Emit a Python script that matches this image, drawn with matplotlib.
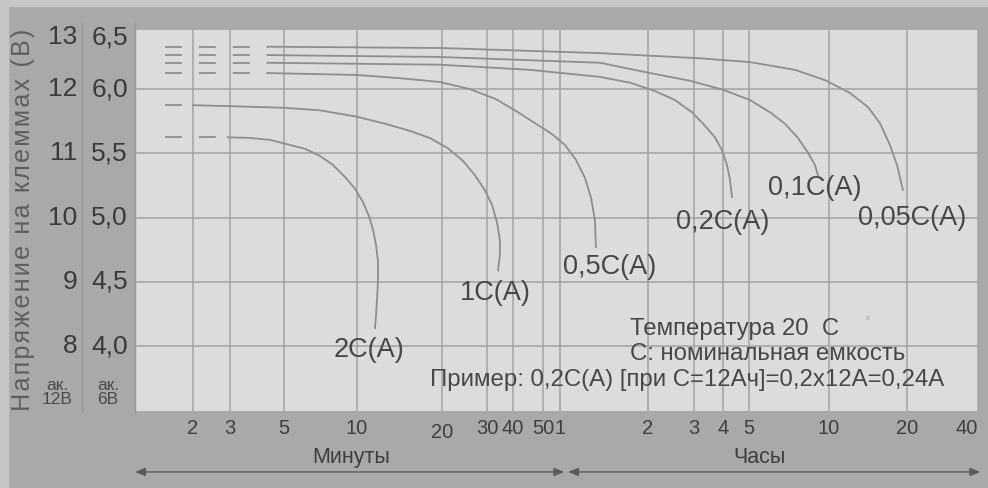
import numpy as np
import matplotlib
matplotlib.use('Agg')
import matplotlib.pyplot as plt
from matplotlib.lines import Line2D
from matplotlib.patches import Rectangle

plt.rcParams['font.family'] = ['Liberation Sans', 'DejaVu Sans']
plt.rcParams['lines.scale_dashes'] = False

# ---- axis calibration of the printed time grid (minutes -> grid position) ----
scale_minutes = [1, 2, 3, 5, 10, 20, 30, 40, 50, 60, 120, 180, 240, 300, 600, 1200, 2400]
scale_pos = [136, 193, 230, 284, 357, 442, 487, 513, 543, 560, 648, 694, 723, 749, 829, 907, 978]

# ---- tick data ----
tick_minutes = [2, 3, 5, 10, 20, 30, 40, 50, 60, 120, 180, 240, 300, 600, 1200, 2400]
tick_labels = ['2', '3', '5', '10', '20', '30', '40', '50', '1', '2', '3', '4', '5', '10', '20', '40']
volt12 = [13, 12, 11, 10, 9, 8]
volt6 = ['6,5', '6,0', '5,5', '5,0', '4,5', '4,0']

# ---- discharge curves: time (minutes), voltage (12 V battery) ----
t_2C = [1.42, 2.93, 3.62, 4.38, 5.30, 6.11, 7.03, 7.96, 8.93, 9.82, 10.5, 11.03, 11.4,
        11.68, 11.87, 11.87, 11.77, 11.68, 11.58]
v_2C = [11.25, 11.25, 11.24, 11.21, 11.13, 11.07, 10.96, 10.82, 10.63, 10.45, 10.24, 10.02,
        9.81, 9.57, 9.31, 9.03, 8.72, 8.48, 8.28]

t_1C = [1.42, 2.0, 3.30, 4.96, 7.03, 10.0, 12.6, 15.4, 18.1, 21.1, 24.2, 26.9, 29.4, 31.7,
        33.5, 34.6, 34.6, 33.9]
v_1C = [11.75, 11.75, 11.73, 11.71, 11.67, 11.57, 11.46, 11.35, 11.24, 11.08, 10.88, 10.66,
        10.43, 10.20, 9.93, 9.65, 9.42, 9.18]

t_05C = [1.42, 4.29, 10.0, 14.2, 19.7, 25.7, 32.8, 40.6, 47.1, 55.1, 62.4, 68.0, 73.0, 76.6,
         79.0, 79.6]
v_05C = [12.25, 12.25, 12.22, 12.17, 12.11, 12.00, 11.85, 11.67, 11.47, 11.30, 11.13, 10.90,
         10.62, 10.31, 9.96, 9.54]

t_02C = [1.42, 4.29, 19.7, 45.4, 82.2, 104.1, 127.6, 152.2, 176.8, 196.1, 221.6, 237.6,
         248.3, 254.8, 259.2]
v_02C = [12.41, 12.41, 12.38, 12.30, 12.19, 12.10, 11.97, 11.83, 11.64, 11.47, 11.25, 11.05,
         10.82, 10.59, 10.32]

t_01C = [1.42, 4.29, 19.7, 82.2, 122.1, 173.7, 240, 302.6, 359.7, 409.9, 458.5, 500, 531.3, 545.3]
v_01C = [12.53, 12.53, 12.50, 12.41, 12.25, 12.13, 11.99, 11.83, 11.64, 11.46, 11.24, 11.01,
         10.82, 10.66]

t_005C = [1.42, 4.29, 19.7, 82.2, 190.9, 302.6, 446.7, 579.7, 722.8, 848.2, 943.6, 1031, 1098, 1157]
v_005C = [12.66, 12.66, 12.64, 12.56, 12.48, 12.42, 12.30, 12.14, 11.94, 11.72, 11.47, 11.13,
          10.82, 10.43]

curve_labels = ['2C(A)', '1C(A)', '0,5C(A)', '0,2C(A)', '0,1C(A)', '0,05C(A)']

curves = [(t_2C, v_2C), (t_1C, v_1C), (t_05C, v_05C),
          (t_02C, v_02C), (t_01C, v_01C), (t_005C, v_005C)]
label_offsets = [(-4, -16), (-2, -16), (10, -14), (-7, -18), (-2, -9), (7, -20)]

# ---- scale functions ----
lg = np.log10(scale_minutes)
sp = np.array(scale_pos, float)


def fwd(x):
    lx = np.log10(np.clip(np.asarray(x, float), 1e-9, None))
    y = np.interp(lx, lg, sp)
    y = np.where(lx < lg[0], sp[0] + (lx - lg[0]) * (sp[1] - sp[0]) / (lg[1] - lg[0]), y)
    y = np.where(lx > lg[-1], sp[-1] + (lx - lg[-1]) * (sp[-1] - sp[-2]) / (lg[-1] - lg[-2]), y)
    return y


def inv(p):
    p = np.asarray(p, float)
    lx = np.interp(p, sp, lg)
    lx = np.where(p < sp[0], lg[0] + (p - sp[0]) * (lg[1] - lg[0]) / (sp[1] - sp[0]), lx)
    lx = np.where(p > sp[-1], lg[-1] + (p - sp[-1]) * (lg[-1] - lg[-2]) / (sp[-1] - sp[-2]), lx)
    return 10 ** lx


W, H = 988, 488
fig = plt.figure(figsize=(W / 100, H / 100), dpi=100)
fig.patch.set_facecolor('#a9a9a9')
fig.add_artist(Rectangle((0, 0), 8 / W, 1, transform=fig.transFigure, color='#c6c6c6', zorder=0))
fig.add_artist(Rectangle((0, 1 - 6 / H), 1, 6 / H, transform=fig.transFigure, color='#c6c6c6', zorder=0))

ax = fig.add_axes([136 / W, 1 - 411 / H, (978 - 136) / W, (411 - 30) / H])
ax.set_facecolor('#dcdcdc')
ax.set_xscale('function', functions=(fwd, inv))
ax.set_xlim(1.0, 2400)
ymin, ymax = 6.99, 12.92
ax.set_ylim(ymin, ymax)
ax.set_xticks(tick_minutes)
ax.set_xticklabels([])
ax.set_yticks(volt12[1:])
ax.set_yticklabels([])
ax.minorticks_off()
ax.tick_params(length=0)
ax.grid(True, color='#a2a2a2', lw=1.1)
ax.set_axisbelow(True)
for s in ax.spines.values():
    s.set_visible(False)

curve_color = '#8e8e8e'
for (t, v), lab, off in zip(curves, curve_labels, label_offsets):
    ax.plot(t[:2], v[:2], color=curve_color, lw=1.3, linestyle=(0, (12.2, 12.2)))
    ax.plot(t[1:], v[1:], color=curve_color, lw=1.3, solid_joinstyle='round')
    ax.annotate(lab, xy=(t[-1], v[-1]), xytext=off, textcoords='offset points',
                ha='center', va='center', fontsize=19.5, color='#474747')

# x tick labels
xt = ax.get_xaxis_transform()
for i, (t, lab) in enumerate(zip(tick_minutes, tick_labels)):
    yy = -0.057 if (lab == '20' and t == 20) else -0.045
    ha = 'right' if i == len(tick_minutes) - 1 else 'center'
    ax.text(t, yy, lab, transform=xt, ha=ha, va='center', fontsize=14.5, color='#3e3e3e')

# y tick labels (two scales)
yt = ax.get_yaxis_transform()
for v12, v6 in zip(volt12, volt6):
    yv = min(v12, ymax - 0.11)
    ax.text(-0.070, yv, str(v12), transform=yt, ha='right', va='center', fontsize=19, color='#3a3a3a')
    ax.text(-0.0095, yv, v6, transform=yt, ha='right', va='center', fontsize=19, color='#3a3a3a')
ax.text(-0.0938, 7.28, 'ак.\n12В', transform=yt, ha='center', va='center', fontsize=12.5,
        color='#4a4a4a', linespacing=0.95)
ax.text(-0.0333, 7.28, 'ак.\n6В', transform=yt, ha='center', va='center', fontsize=12.5,
        color='#4a4a4a', linespacing=0.95)

# left panel separators
fig.add_artist(Line2D([82 / W, 82 / W], [1 - 412 / H, 1 - 22 / H], color='#989898', lw=1))
fig.add_artist(Line2D([135 / W, 135 / W], [1 - 412 / H, 1 - 22 / H], color='#989898', lw=1))

# y axis title with widened letter spacing
ytitle = '\u200a'.join('Напряжение на клеммах (В)')
fig.text(23 / W, 1 - 220 / H, ytitle, rotation=90, ha='center', va='center',
         fontsize=18.2, color='#5e5e5e')

# notes
note_kw = dict(transform=ax.transAxes, ha='left', va='center', fontsize=17.3, color='#474747')
ax.text(0.5867, 0.215, 'Температура 20  C', **note_kw)
ax.text(0.5867, 0.150, 'С: номинальная емкость', **note_kw)
ax.text(0.349, 0.081, 'Пример: 0,2C(A) [при C=12Ач]=0,2x12A=0,24A', **note_kw)
ax.text(0.869, 0.244, 'o', transform=ax.transAxes, ha='center', va='center', fontsize=5, color='#9a9a9a')

# time-range labels and arrows
ax.text(9.5, -0.123, 'Минуты', transform=xt, ha='center', va='center', fontsize=15.5, color='#3e3e3e')
ax.text(330, -0.123, 'Часы', transform=xt, ha='center', va='center', fontsize=15.5, color='#3e3e3e')
arrow_kw = dict(arrowstyle='<|-|>,head_length=0.6,head_width=0.25', color='#5a5a5a', lw=1,
                shrinkA=0, shrinkB=0)
ax.annotate('', xy=(0.99, -0.160), xytext=(62, -0.160), xycoords=xt, textcoords=xt,
            arrowprops=arrow_kw, annotation_clip=False)
ax.annotate('', xy=(64, -0.160), xytext=(2450, -0.160), xycoords=xt, textcoords=xt,
            arrowprops=arrow_kw, annotation_clip=False)

fig.savefig('out.png', dpi=100, facecolor=fig.get_facecolor())
